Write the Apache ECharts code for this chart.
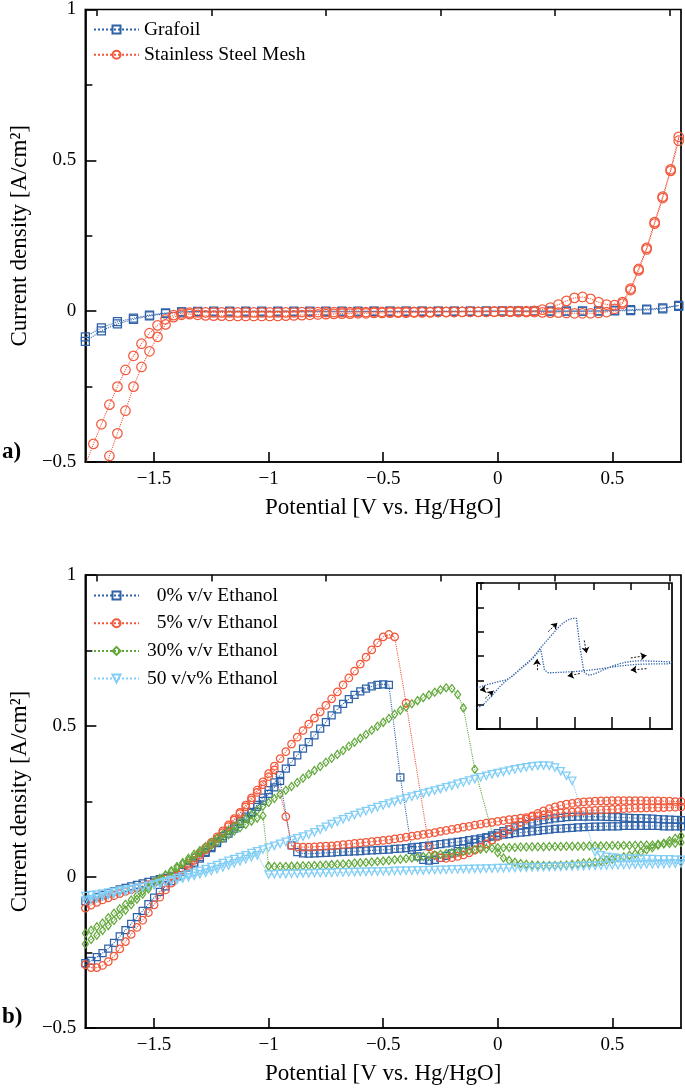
<!DOCTYPE html>
<html><head><meta charset="utf-8">
<script src="https://cdn.jsdelivr.net/npm/echarts@6/dist/echarts.min.js"></script>
<style>html,body{margin:0;padding:0;background:#fff}#c{width:685px;height:1088px}</style>
</head><body><div id="c"></div>
<script>
// ---------- Panel a) data ----------
const XT_MESH = [-1.8,-1.765,-1.73,-1.695,-1.66,-1.625,-1.59,-1.555,-1.52,-1.485,
-1.45,-1.415,-1.38,-1.345,-1.31,-1.275,-1.24,-1.205,-1.17,-1.135,
-1.1,-1.065,-1.03,-0.995,-0.96,-0.925,-0.89,-0.855,-0.82,-0.785,
-0.75,-0.715,-0.68,-0.645,-0.61,-0.575,-0.54,-0.505,-0.47,-0.435,
-0.4,-0.365,-0.33,-0.295,-0.26,-0.225,-0.19,-0.155,-0.12,-0.085,
-0.05,-0.015,0.02,0.055,0.09,0.125,0.16,0.195,0.23,0.265,
0.3,0.335,0.37,0.405,0.44,0.475,0.51,0.545,0.58,0.615,
0.65,0.685,0.72,0.755,0.79];
const MESH_FWD = [-0.70,-0.63,-0.56,-0.48,-0.405,-0.33,-0.25,-0.185,-0.133,-0.085,
-0.044,-0.02,-0.012,-0.01,-0.012,-0.014,-0.015,-0.015,-0.016,-0.016,
-0.016,-0.016,-0.016,-0.016,-0.016,-0.015,-0.014,-0.013,-0.012,-0.011,
-0.01,-0.009,-0.008,-0.008,-0.007,-0.007,-0.006,-0.006,-0.005,-0.005,
-0.005,-0.004,-0.004,-0.004,-0.003,-0.003,-0.003,-0.002,-0.002,-0.002,
-0.002,-0.001,-0.001,0,0,0,0.001,0.005,0.012,0.022,
0.034,0.044,0.047,0.041,0.03,0.022,0.02,0.03,0.075,0.14,
0.21,0.295,0.38,0.47,0.578];
const MESH_REV = [-0.51,-0.44,-0.375,-0.31,-0.25,-0.195,-0.148,-0.108,-0.073,-0.047,
-0.027,-0.013,-0.007,-0.005,-0.004,-0.004,-0.004,-0.004,-0.004,-0.004,
-0.004,-0.004,-0.004,-0.004,-0.004,-0.004,-0.004,-0.003,-0.003,-0.003,
-0.003,-0.003,-0.003,-0.003,-0.003,-0.003,-0.003,-0.002,-0.002,-0.002,
-0.002,-0.002,-0.002,-0.002,-0.002,-0.002,-0.002,-0.002,-0.002,-0.002,
-0.002,-0.002,-0.002,-0.002,-0.003,-0.003,-0.003,-0.004,-0.005,-0.005,
-0.006,-0.007,-0.007,-0.007,-0.006,-0.003,0.008,0.025,0.07,0.135,
0.205,0.29,0.375,0.465,0.565];

const XT_GRAF = [-1.8,-1.73,-1.66,-1.59,-1.52,-1.45,-1.38,-1.31,-1.24,-1.17,-1.1,-1.03,-0.96,-0.89,-0.82,-0.75,-0.68,-0.61,-0.54,-0.47,-0.4,-0.33,-0.26,-0.19,-0.12,-0.05,0.02,0.09,0.16,0.23,0.3,0.37,0.44,0.51,0.58,0.65,0.72,0.79];
const GRAF_FWD = [-0.1,-0.065,-0.042,-0.027,-0.016,-0.008,-0.003,-0.002,
-0.002,-0.002,-0.002,-0.002,-0.002,-0.002,-0.002,-0.002,-0.002,-0.002,
-0.001,-0.001,-0.001,-0.001,-0.001,-0.001,-0.001,
0,0,0,0,0,0,0,0.001,
0.003,0.005,0.007,0.011,0.019];
const GRAF_REV = [-0.085,-0.055,-0.035,-0.023,-0.013,-0.006,-0.002,-0.001,
0,0,0,0,0,0,0,0,0,0,0,0,0,0,0,0,0,0,0,0,0,0,0,0,0,
0.001,0.002,0.004,0.008,0.016];

// ---------- Panel b) data ----------
const XB = [-1.8,-1.775,-1.75,-1.725,-1.7,-1.675,-1.65,-1.625,-1.6,-1.575,
-1.55,-1.525,-1.5,-1.475,-1.45,-1.425,-1.4,-1.375,-1.35,-1.325,
-1.3,-1.275,-1.25,-1.225,-1.2,-1.175,-1.15,-1.125,-1.1,-1.075,
-1.05,-1.025,-1,-0.975,-0.95,-0.925,-0.9,-0.875,-0.85,-0.825,
-0.8,-0.775,-0.75,-0.725,-0.7,-0.675,-0.65,-0.625,-0.6,-0.575,
-0.55,-0.525,-0.5,-0.475,-0.45,-0.425,-0.4,-0.375,-0.35,-0.325,
-0.3,-0.275,-0.25,-0.225,-0.2,-0.175,-0.15,-0.125,-0.1,-0.075,
-0.05,-0.025,0,0.025,0.05,0.075,0.1,0.125,0.15,0.175,
0.2,0.225,0.25,0.275,0.3,0.325,0.35,0.375,0.4,0.425,
0.45,0.475,0.5,0.525,0.55,0.575,0.6,0.625,0.65,0.675,
0.7,0.725,0.75,0.775,0.8];

const E0_FWD = [-0.285,-0.278,-0.265,-0.252,-0.237,-0.218,-0.197,-0.176,-0.155,-0.133,
-0.112,-0.09,-0.068,-0.049,-0.031,-0.014,0.002,0.018,0.033,0.048,
0.066,0.083,0.1,0.117,0.135,0.152,0.168,0.185,0.2,0.216,
0.239,0.263,0.288,0.313,0.337,0.359,0.381,0.403,0.425,0.447,
0.469,0.491,0.513,0.535,0.555,0.573,0.589,0.603,0.615,0.624,
0.631,0.636,0.638,0.636,null,0.33,null,0.09,0.068,0.057,
0.054,0.057,0.063,0.07,0.078,0.086,0.095,0.104,0.113,0.122,
0.13,0.138,0.145,0.152,0.158,0.164,0.17,0.175,0.18,0.184,
0.188,0.191,0.194,0.196,0.198,0.199,0.2,0.2,0.2,0.2,
0.2,0.199,0.198,0.198,0.197,0.196,0.195,0.195,0.194,0.193,
0.192,0.191,0.19,0.189,0.188];
const E0_REV = [-0.08,-0.073,-0.066,-0.059,-0.053,-0.047,-0.041,-0.036,-0.031,-0.026,
-0.021,-0.016,-0.011,-0.007,-0.003,0.002,0.006,0.018,0.031,0.045,
0.061,0.08,0.096,0.112,0.128,0.144,0.16,0.176,0.193,0.212,
0.232,0.252,0.275,0.297,0.318,null,0.105,0.082,0.078,0.077,
0.078,0.079,0.08,0.081,0.082,0.083,0.084,0.085,0.086,0.087,
0.088,0.089,0.09,0.091,0.093,0.094,0.096,0.098,0.1,0.102,
0.104,0.106,0.109,0.111,0.114,0.116,0.119,0.122,0.125,0.128,
0.131,0.134,0.137,0.14,0.142,0.145,0.147,0.149,0.151,0.153,
0.155,0.157,0.159,0.16,0.162,0.163,0.164,0.165,0.166,0.167,
0.167,0.168,0.168,0.168,0.169,0.169,0.169,0.169,0.169,0.169,
0.169,0.168,0.168,0.168,0.168];

const E5_FWD = [-0.29,-0.3,-0.3,-0.293,-0.28,-0.262,-0.238,-0.214,-0.19,-0.167,
-0.143,-0.118,-0.092,-0.067,-0.043,-0.02,0.002,0.024,0.045,0.063,
0.08,0.097,0.115,0.133,0.153,0.173,0.193,0.214,0.238,0.262,
0.288,0.315,0.342,0.367,0.392,0.415,0.44,0.463,0.485,0.506,
0.526,0.547,0.568,0.59,0.613,0.636,0.659,0.682,0.705,0.728,
0.752,0.775,0.795,0.803,0.795,null,0.576,null,null,null,
0.1,0.072,0.063,0.062,0.064,0.068,0.073,0.08,0.089,0.099,
0.11,0.122,0.134,0.146,0.158,0.17,0.181,0.192,0.202,0.211,
0.219,0.226,0.232,0.237,0.241,0.244,0.247,0.249,0.25,0.251,
0.252,0.252,0.253,0.253,0.253,0.253,0.253,0.253,0.252,0.252,
0.252,0.251,0.251,0.25,0.25];
const E5_REV = [-0.103,-0.093,-0.084,-0.076,-0.069,-0.062,-0.055,-0.048,-0.042,-0.036,
-0.03,-0.025,-0.019,-0.013,-0.007,0.0,0.008,0.022,0.038,0.055,
0.072,0.09,0.108,0.127,0.147,0.167,0.188,0.21,0.232,0.255,
0.28,0.306,0.332,0.355,null,0.2,0.104,0.1,0.099,0.099,
0.1,0.101,0.102,0.103,0.105,0.107,0.109,0.111,0.113,0.115,
0.117,0.119,0.121,0.123,0.126,0.129,0.132,0.135,0.138,0.141,
0.144,0.147,0.151,0.154,0.158,0.161,0.165,0.168,0.172,0.175,
0.178,0.181,0.184,0.187,0.19,0.192,0.195,0.197,0.2,0.202,
0.205,0.207,0.21,0.212,0.214,0.215,0.217,0.218,0.22,0.221,
0.222,0.223,0.224,0.225,0.226,0.227,0.228,0.228,0.229,0.229,
0.23,0.23,0.231,0.231,0.232];

const E30_FWD = [-0.222,-0.207,-0.193,-0.177,-0.161,-0.144,-0.127,-0.11,-0.092,-0.074,
-0.057,-0.04,-0.024,-0.009,0.006,0.021,0.035,0.048,0.062,0.075,
0.088,0.101,0.115,0.128,0.141,0.154,0.168,0.181,0.194,0.207,
0.221,0.234,0.247,0.26,0.274,0.287,0.3,0.313,0.327,0.34,
0.353,0.366,0.38,0.393,0.406,0.419,0.433,0.446,0.459,0.472,
0.486,0.499,0.512,0.525,0.539,0.552,0.563,0.574,0.584,0.594,
0.603,0.612,0.62,0.627,0.624,0.604,0.56,null,0.357,null,
null,null,0.08,0.063,0.055,0.049,0.045,0.042,0.04,0.039,
0.038,0.038,0.038,0.039,0.04,0.042,0.044,0.046,0.048,0.05,
0.053,0.056,0.059,0.063,0.067,0.072,0.077,0.083,0.09,0.097,
0.105,0.112,0.12,0.128,0.136];
const E30_REV = [-0.186,-0.176,-0.165,-0.152,-0.135,-0.12,-0.105,-0.09,-0.076,-0.061,
-0.047,-0.032,-0.017,-0.004,0.007,0.018,0.03,0.043,0.055,0.067,
0.08,0.092,0.104,0.116,0.128,0.14,0.152,0.163,0.174,0.185,
0.195,0.203,0.036,0.035,0.035,0.035,0.036,0.036,0.037,0.037,
0.038,0.039,0.04,0.041,0.042,0.043,0.044,0.046,0.047,0.048,
0.05,0.051,0.053,0.055,0.057,0.059,0.061,0.063,0.065,0.068,
0.07,0.073,0.075,0.078,0.08,0.083,0.085,0.088,0.09,0.092,
0.094,0.095,0.097,0.097,0.098,0.098,0.099,0.099,0.1,0.1,
0.1,0.101,0.101,0.101,0.102,0.102,0.102,0.102,0.103,0.103,
0.103,0.103,0.104,0.104,0.104,0.104,0.105,0.105,0.106,0.106,
0.108,0.109,0.111,0.112,0.114];

const E50_FWD = [-0.078,-0.074,-0.07,-0.065,-0.061,-0.057,-0.052,-0.048,-0.043,-0.039,
-0.034,-0.03,-0.025,-0.02,-0.015,-0.01,-0.004,0.002,0.008,0.014,
0.02,0.026,0.033,0.039,0.046,0.053,0.059,0.066,0.072,0.079,
0.085,0.091,0.097,0.103,0.11,0.116,0.122,0.128,0.134,0.14,
0.148,0.157,0.166,0.175,0.183,0.191,0.198,0.205,0.212,0.218,
0.225,0.231,0.237,0.243,0.249,0.255,0.26,0.266,0.271,0.276,
0.281,0.286,0.291,0.297,0.302,0.308,0.313,0.319,0.324,0.33,
0.335,0.34,0.344,0.348,0.352,0.356,0.36,0.363,0.366,0.368,
0.369,0.368,0.362,0.35,0.335,0.318,null,null,null,0.082,
0.072,0.067,0.064,0.062,0.061,0.06,0.06,0.06,0.059,0.059,
0.058,0.058,0.058,0.057,0.057];
const E50_REV = [-0.063,-0.06,-0.058,-0.055,-0.052,-0.049,-0.046,-0.043,-0.04,-0.036,
-0.033,-0.03,-0.026,-0.022,-0.018,-0.014,-0.01,-0.005,-0.001,0.004,
0.009,0.014,0.02,0.026,0.032,0.038,0.045,0.052,0.059,0.066,
0.072,null,0.008,0.009,0.01,0.01,0.011,0.011,0.012,0.012,
0.013,0.013,0.014,0.014,0.015,0.015,0.016,0.016,0.017,0.017,
0.018,0.018,0.019,0.019,0.02,0.02,0.021,0.021,0.022,0.022,
0.023,0.023,0.024,0.024,0.025,0.025,0.026,0.026,0.027,0.027,
0.028,0.028,0.029,0.029,0.03,0.03,0.031,0.031,0.032,0.032,
0.033,0.033,0.034,0.034,0.035,0.035,0.036,0.036,0.037,0.037,
0.038,0.038,0.039,0.039,0.04,0.04,0.041,0.041,0.042,0.042,
0.043,0.043,0.044,0.044,0.045];

// inset arrows [x1,y1,x2,y2] (head at x2,y2)
const INSET_ARROWS = [
  [-0.85,0.50,-0.73,0.59],
  [-0.37,0.41,-0.34,0.28],
  [-1.00,0.105,-1.00,0.22],
  [-0.43,0.07,-0.59,0.045],
  [0.25,0.23,0.46,0.255],
  [0.46,0.12,0.25,0.105],
  [-1.65,-0.085,-1.76,-0.10],
  [-1.69,-0.186,-1.58,-0.107]
];

// labels / ticks
const NAMES_A = ['Grafoil','Stainless Steel Mesh'];
const NAMES_B = ['0% v/v Ethanol','5% v/v Ethanol','30% v/v Ethanol','50 v/v% Ethanol'];
const X_MAJOR = [-1.5,-1,-0.5,0,0.5];
const X_MINOR = [-1.75,-1.25,-0.75,-0.25,0.25,0.75];
const X_NAME = 'Potential [V vs. Hg/HgO]';
const Y_NAME = 'Current density [A/cm\u00B2]';

const BLUE = '#2f62a8', RED = '#f2583b', GREEN = '#62a83a', LBLUE = '#80cdf5';
const FONT = '"Liberation Serif", "Times New Roman", serif';

function branch(xs, ys){ const o=[]; for(let i=0;i<xs.length;i++){ if(ys[i]!==null) o.push([xs[i], ys[i]]); } return o; }
function loop(xs, f, r){ return branch(xs,f).concat(branch(xs,r).reverse()); }
function fmt(v){ const s = String(Math.round(Math.abs(v)*100)/100); return v < -1e-9 ? '\u2212'+s : s; }

const AX = {color:'#000', width:1.7};
function xMain(g){ return {type:'value', gridIndex:g, min:-1.8, max:0.8,
  axisLine:{show:true, onZero:false, lineStyle:AX},
  axisTick:{show:true, inside:true, length:10, customValues:X_MAJOR, lineStyle:{color:'#000',width:1.6}},
  axisLabel:{show:true, customValues:X_MAJOR, formatter:fmt, margin:8, color:'#000', fontFamily:FONT, fontSize:19},
  splitLine:{show:false},
  name:X_NAME, nameLocation:'middle', nameGap:34,
  nameTextStyle:{color:'#000', fontFamily:FONT, fontSize:23}}; }
function xMinor(g, len){ return {type:'value', gridIndex:g, min:-1.8, max:0.8,
  axisLine:{show:false, onZero:false},
  axisTick:{show:true, inside:true, length:len, customValues:X_MINOR, lineStyle:{color:'#000',width:1.5}},
  axisLabel:{show:false}, splitLine:{show:false}}; }
function yMain(g){ return {type:'value', gridIndex:g, min:-0.5, max:1, interval:0.5,
  axisLine:{show:true, onZero:false, lineStyle:AX},
  axisTick:{show:true, inside:true, length:11, lineStyle:{color:'#000',width:1.6}},
  minorTick:{show:true, splitNumber:2, length:7, lineStyle:{color:'#000',width:1.5}},
  axisLabel:{formatter:fmt, margin:9, color:'#000', fontFamily:FONT, fontSize:19},
  splitLine:{show:false}, minorSplitLine:{show:false},
  name:Y_NAME, nameLocation:'middle', nameGap:47, nameRotate:90,
  nameTextStyle:{color:'#000', fontFamily:FONT, fontSize:23}}; }

function sym(name, xi, yi, data, color, symbol, size, rotate){
  return {name:name, type:'line', xAxisIndex:xi, yAxisIndex:yi, data:data,
    symbol:symbol, symbolSize:size, symbolRotate:rotate||0, showAllSymbol:true,
    itemStyle:{color:'rgba(255,255,255,0)', borderColor:color, borderWidth:1.25},
    lineStyle:{color:color, width:1.1, type:'dotted'},
    emphasis:{disabled:true}, z:3};
}

const data0 = loop(XB, E0_FWD, E0_REV);

const option = {
  animation:false,
  backgroundColor:'#fff',
  grid:[
    {left:77, top:8, width:604, height:454, show:true, borderColor:'#000', borderWidth:1.7, backgroundColor:'rgba(0,0,0,0)'},
    {left:77, top:575, width:604, height:453, show:true, borderColor:'#000', borderWidth:1.7, backgroundColor:'rgba(0,0,0,0)'},
    {left:477, top:583, width:195, height:146, show:true, borderColor:'#000', borderWidth:1.7, backgroundColor:'#fff'}
  ],
  xAxis:[
    xMain(0), xMinor(0,6.5), xMain(1), xMinor(1,6.5),
    {type:'value', gridIndex:2, min:-1.8, max:0.8,
      axisLine:{show:true, onZero:false, lineStyle:AX},
      axisTick:{show:true, inside:true, length:12, customValues:X_MAJOR, lineStyle:{color:'#000',width:1.5}},
      axisLabel:{show:false}, splitLine:{show:false}},
    xMinor(2,7)
  ],
  yAxis:[
    yMain(0), yMain(1),
    {type:'value', gridIndex:2, min:-0.5, max:1, interval:0.25,
      axisLine:{show:true, onZero:false, lineStyle:AX},
      axisTick:{show:true, inside:true, length:7, lineStyle:{color:'#000',width:1.5}},
      axisLabel:{show:false}, splitLine:{show:false}}
  ],
  legend:[
    {data:NAMES_A, orient:'vertical', left:88, top:14.5, itemWidth:45, itemHeight:10, itemGap:5.3,
      selectedMode:false,
      formatter:n=>'{a|'+n+'}',
      textStyle:{color:'#000', fontFamily:FONT, fontSize:19.5, rich:{a:{fontFamily:FONT, fontSize:19.5, lineHeight:20, color:'#000'}}}},
    {data:NAMES_B, orient:'vertical', left:88, top:580.5, itemWidth:45, itemHeight:10, itemGap:7.7,
      selectedMode:false,
      formatter:n=>'{a|'+n+'}',
      textStyle:{color:'#000', fontFamily:FONT, fontSize:19.5, rich:{a:{fontFamily:FONT, fontSize:19.5, lineHeight:20, width:134, align:'right', color:'#000'}}}}
  ],
  graphic:[
    {type:'text', left:2, top:441, style:{text:'a)', font:'bold 23px "Liberation Serif"', fill:'#000'}},
    {type:'text', left:2, top:1006, style:{text:'b)', font:'bold 23px "Liberation Serif"', fill:'#000'}}
  ],
  series:[
    sym(NAMES_A[0], 0, 0, loop(XT_GRAF, GRAF_FWD, GRAF_REV), BLUE, 'rect', 8),
    sym(NAMES_A[1], 0, 0, loop(XT_MESH, MESH_FWD, MESH_REV), RED, 'circle', 9.5),
    sym(NAMES_B[0], 2, 1, data0, BLUE, 'rect', 7),
    sym(NAMES_B[1], 2, 1, loop(XB, E5_FWD, E5_REV), RED, 'circle', 7.5),
    sym(NAMES_B[2], 2, 1, loop(XB, E30_FWD, E30_REV), GREEN, 'diamond', [6,8]),
    sym(NAMES_B[3], 2, 1, loop(XB, E50_FWD, E50_REV), LBLUE, 'triangle', 7.5, 180),
    {name:'inset', type:'line', xAxisIndex:4, yAxisIndex:2, data:data0, symbol:'none',
      lineStyle:{color:BLUE, width:1.3, type:'dotted'}, emphasis:{disabled:true}, z:5,
      markLine:{silent:true, animation:false, symbol:['none','arrow'], symbolSize:6,
        lineStyle:{color:'#000', width:0.9, type:[2,1.5]}, label:{show:false}, emphasis:{disabled:true},
        data:INSET_ARROWS.map(a=>[{coord:[a[0],a[1]]},{coord:[a[2],a[3]]}])}}
  ]
};
const chart = echarts.init(document.getElementById('c'), null, {renderer:'canvas'});
chart.setOption(option);
</script>
</body></html>
